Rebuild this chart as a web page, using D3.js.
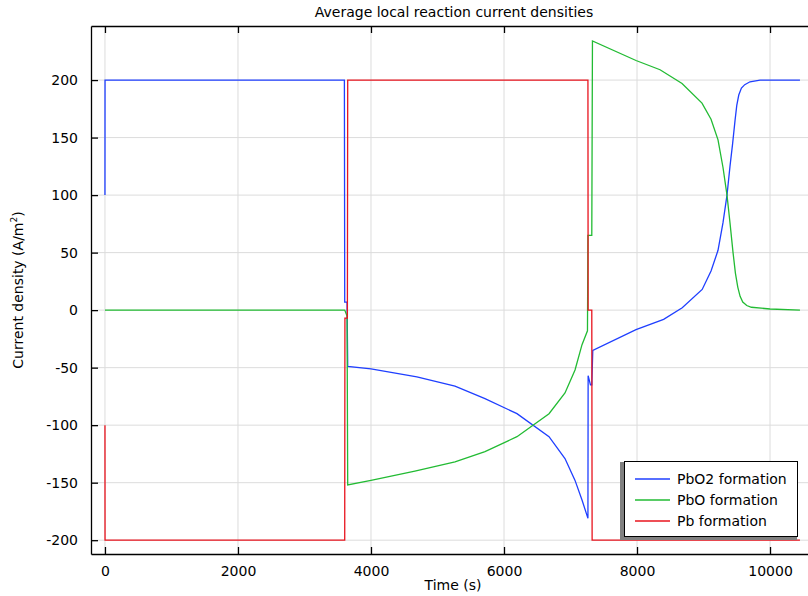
<!DOCTYPE html>
<html><head><meta charset="utf-8">
<script src="https://cdn.jsdelivr.net/npm/d3@7"></script>
<style>body{margin:0;background:#fff;}svg{display:block;font-family:"DejaVu Sans",sans-serif;}</style>
</head><body><svg id="c" width="808" height="596"></svg>
<script>
const title = "Average local reaction current densities";
const xLabel = "Time (s)";
const xTicks = [0, 2000, 4000, 6000, 8000, 10000];
const yTicks = [-200, -150, -100, -50, 0, 50, 100, 150, 200];
const seriesNames = ["PbO2 formation", "PbO formation", "Pb formation"];
const seriesColors = ["#1f3fff", "#22bb33", "#e8141e"];
const pbo2 = [[0,100],[1,200],[3600,200],[3605,7],[3640,7],[3650,-49],[4000,-51],[4690,-58],[5263,-66],[5714,-77],[6195,-90],[6677,-110],[6917,-129],[7068,-148],[7173,-165],[7262,-181],[7265,-57],[7300,-65],[7320,-65],[7335,-35],[7985,-17],[8400,-8],[8680,2],[8980,18],[9113,34],[9218,52],[9293,76],[9353,100],[9398,125],[9438,145],[9474,165],[9500,178],[9530,187],[9570,193],[9620,196],[9699,198.5],[9850,200],[10450,200]];
const pbo = [[0,0],[3605,0],[3640,-5],[3650,-152],[4000,-148],[4660,-140],[5263,-132],[5714,-123],[6195,-110],[6677,-90],[6917,-72],[7068,-52],[7173,-30],[7255,-18],[7262,65],[7320,65],[7330,234],[7985,217],[8346,209],[8677,197],[8977,180],[9113,166],[9218,148],[9293,124],[9353,100],[9398,76],[9444,50],[9480,32],[9515,20],[9550,12],[9590,7],[9650,4],[9720,2.5],[10000,1],[10450,0]];
const pb = [[0,-100],[1,-200],[3605,-200],[3608,-7],[3645,-7],[3650,200],[7262,200],[7265,0],[7320,0],[7325,-200],[10450,-200]];
const seriesData = [pbo2, pbo, pb];

const svg = d3.select("#c");
const L = 91, T = 26, B = 554, R = 808;
const x = d3.scaleLinear().domain([-210, 10571]).range([L, R]);
const y = d3.scaleLinear().domain([-212, 247]).range([B, T]);

// grid
svg.append("g").selectAll("line").data(xTicks).join("line")
  .attr("x1", d => x(d)).attr("x2", d => x(d)).attr("y1", T).attr("y2", B)
  .attr("stroke", "#dcdcdc").attr("stroke-width", 1);
svg.append("g").selectAll("line").data(yTicks).join("line")
  .attr("x1", L).attr("x2", R).attr("y1", d => y(d)).attr("y2", d => y(d))
  .attr("stroke", "#dcdcdc").attr("stroke-width", 1);

// lines
const line = d3.line().x(d => x(d[0])).y(d => y(d[1]));
seriesData.forEach((s, i) => {
  svg.append("path").datum(s).attr("d", line).attr("fill", "none")
    .attr("stroke", seriesColors[i]).attr("stroke-width", 1.3);
});

// axes
const fmt = d => String(d);
const ax = svg.append("g").attr("transform", `translate(0,${B})`)
  .call(d3.axisBottom(x).tickValues(xTicks).tickSizeInner(-7).tickSizeOuter(0).tickPadding(12).tickFormat(fmt));
const axTop = svg.append("g").attr("transform", `translate(0,${T})`)
  .call(d3.axisTop(x).tickValues(xTicks).tickSizeInner(-7).tickSizeOuter(0).tickFormat(""));
const ay = svg.append("g").attr("transform", `translate(${L},0)`)
  .call(d3.axisLeft(y).tickValues(yTicks).tickSizeInner(-7).tickSizeOuter(0).tickPadding(13).tickFormat(fmt));
[ax, axTop, ay].forEach(g => {
  g.selectAll(".domain").attr("stroke", "#000").attr("stroke-width", 1.3);
  g.selectAll(".tick line").attr("stroke", "#000").attr("stroke-width", 1.3);
  g.selectAll("text").attr("font-size", 14).attr("fill", "#000").attr("font-family", "DejaVu Sans, sans-serif");
});

// title & labels
svg.append("text").attr("x", 454).attr("y", 17).attr("text-anchor", "middle")
  .attr("font-size", 14).text(title);
svg.append("text").attr("x", 453).attr("y", 590).attr("text-anchor", "middle")
  .attr("font-size", 14).text(xLabel);
const yl = svg.append("text").attr("transform", "translate(23,290) rotate(-90)")
  .attr("text-anchor", "middle").attr("font-size", 14);
yl.append("tspan").text("Current density (A/m");
yl.append("tspan").attr("font-size", 9).attr("dy", -6).text("2");
yl.append("tspan").attr("dy", 6).text(")");

// legend
const lg = svg.append("g");
lg.append("rect").attr("x", 620).attr("y", 462).attr("width", 177).attr("height", 78).attr("fill", "#808080");
lg.append("rect").attr("x", 624.5).attr("y", 461.5).attr("width", 173).attr("height", 75).attr("fill", "#fff").attr("stroke", "#000").attr("stroke-width", 1);
seriesNames.forEach((n, i) => {
  const yy = 479 + i * 21;
  lg.append("line").attr("x1", 635).attr("x2", 670).attr("y1", yy).attr("y2", yy)
    .attr("stroke", seriesColors[i]).attr("stroke-width", 1.3);
  lg.append("text").attr("x", 677).attr("y", yy + 5).attr("font-size", 14).text(n);
});
</script></body></html>
